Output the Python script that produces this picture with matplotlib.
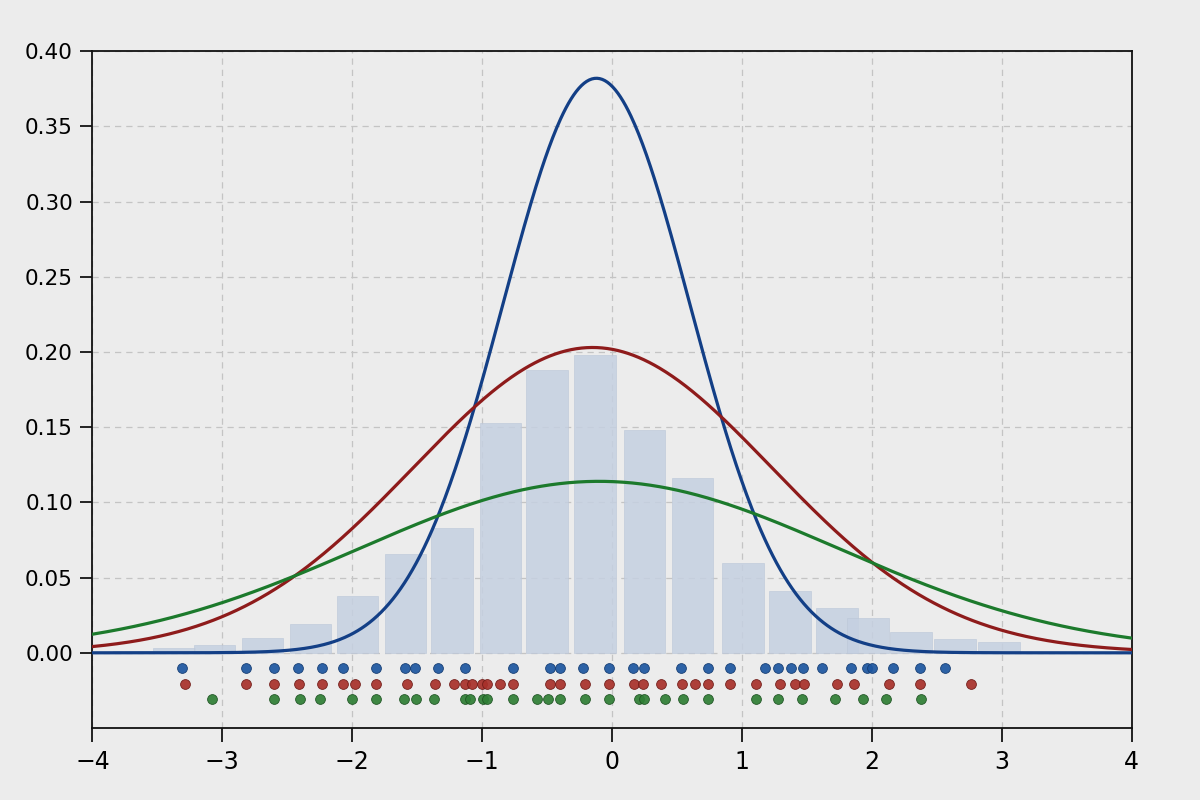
import numpy as np
import matplotlib
matplotlib.use("Agg")
import matplotlib.pyplot as plt

# ---- data ----
bar_centers = [-3.68, -3.37, -3.06, -2.69, -2.32, -1.96, -1.59, -1.23, -0.86, -0.50,
               -0.13, 0.25, 0.62, 1.01, 1.37, 1.73, 1.97, 2.30, 2.64, 2.98]
bar_heights = [0.0015, 0.003, 0.005, 0.010, 0.019, 0.038, 0.066, 0.083, 0.153, 0.188,
               0.198, 0.148, 0.116, 0.060, 0.041, 0.030, 0.023, 0.014, 0.009, 0.007]

# density curves: (mean, sd, peak height)
curve_names = ["blue", "red", "green"]
curve_means = [-0.12, -0.15, -0.10]
curve_sds = [0.72, 1.38, 1.85]
curve_peaks = [0.382, 0.203, 0.114]

rug_blue = [-3.31, -2.82, -2.60, -2.42, -2.23, -2.07, -1.82, -1.59, -1.52, -1.34,
            -1.13, -0.76, -0.48, -0.40, -0.22, -0.02, 0.16, 0.25, 0.53, 0.74,
            0.91, 1.18, 1.28, 1.38, 1.47, 1.62, 1.84, 1.96, 2.00, 2.16, 2.37, 2.56]
rug_red = [-3.29, -2.82, -2.60, -2.41, -2.23, -2.07, -1.98, -1.82, -1.58, -1.36,
           -1.22, -1.13, -1.08, -1.00, -0.96, -0.86, -0.76, -0.48, -0.40, -0.21,
           -0.02, 0.17, 0.24, 0.38, 0.54, 0.64, 0.74, 0.91, 1.11, 1.29, 1.41,
           1.48, 1.73, 1.86, 2.13, 2.37, 2.76]
rug_green = [-3.08, -2.60, -2.40, -2.25, -2.00, -1.82, -1.60, -1.51, -1.37, -1.13,
             -1.09, -0.99, -0.96, -0.76, -0.58, -0.49, -0.40, -0.21, -0.02, 0.21,
             0.25, 0.41, 0.55, 0.74, 1.11, 1.28, 1.46, 1.72, 1.93, 2.11, 2.38]
rug_levels = [-0.010, -0.0205, -0.031]

x_ticks = [-4, -3, -2, -1, 0, 1, 2, 3, 4]
y_ticks = [0.00, 0.05, 0.10, 0.15, 0.20, 0.25, 0.30, 0.35, 0.40]

# ---- styles ----
line_colors = ["#133f86", "#8e1b1b", "#1c7a2c"]
dot_colors = ["#1d56a0", "#a8302a", "#2f7f35"]
dot_edges = ["#123a70", "#6e1a16", "#1d5222"]
bg = "#ececec"

fig = plt.figure(figsize=(12, 8), dpi=100, facecolor=bg)
ax = fig.add_axes([0.077, 0.09, 0.866, 0.846], facecolor=bg)

ax.bar(bar_centers, bar_heights, width=0.32, color="#c5d0e1", alpha=0.85,
       edgecolor="#bcc7d8", linewidth=0.5, zorder=2)

xs = np.linspace(-4, 4, 800)
for m, s, p, c in zip(curve_means, curve_sds, curve_peaks, line_colors):
    ax.plot(xs, p * np.exp(-0.5 * ((xs - m) / s) ** 2), color=c, lw=2.3, zorder=4)

for pts, lvl, c, ec in zip([rug_blue, rug_red, rug_green], rug_levels, dot_colors, dot_edges):
    ax.scatter(pts, [lvl] * len(pts), s=50, color=c, edgecolor=ec,
               linewidth=0.6, alpha=0.92, zorder=5)

ax.set_xlim(-4, 4)
ax.set_ylim(-0.05, 0.40)
ax.set_xticks(x_ticks)
ax.set_xticklabels([("\u2212" + str(abs(t))) if t < 0 else str(t) for t in x_ticks])
ax.set_yticks(y_ticks)
ax.set_yticklabels([f"{t:.2f}" for t in y_ticks])
ax.tick_params(axis="x", labelsize=17, length=10, width=1.2, direction="out", pad=6)
ax.tick_params(axis="y", labelsize=15.5, length=9, width=1.2, direction="out", pad=5)
ax.grid(True, color="#c4c4c4", linestyle=(0, (5, 4)), linewidth=0.9, zorder=0)
ax.set_axisbelow(True)
for sp in ax.spines.values():
    sp.set_color("#111111")
    sp.set_linewidth(1.3)

fig.savefig("out.png", dpi=100, facecolor=bg)
